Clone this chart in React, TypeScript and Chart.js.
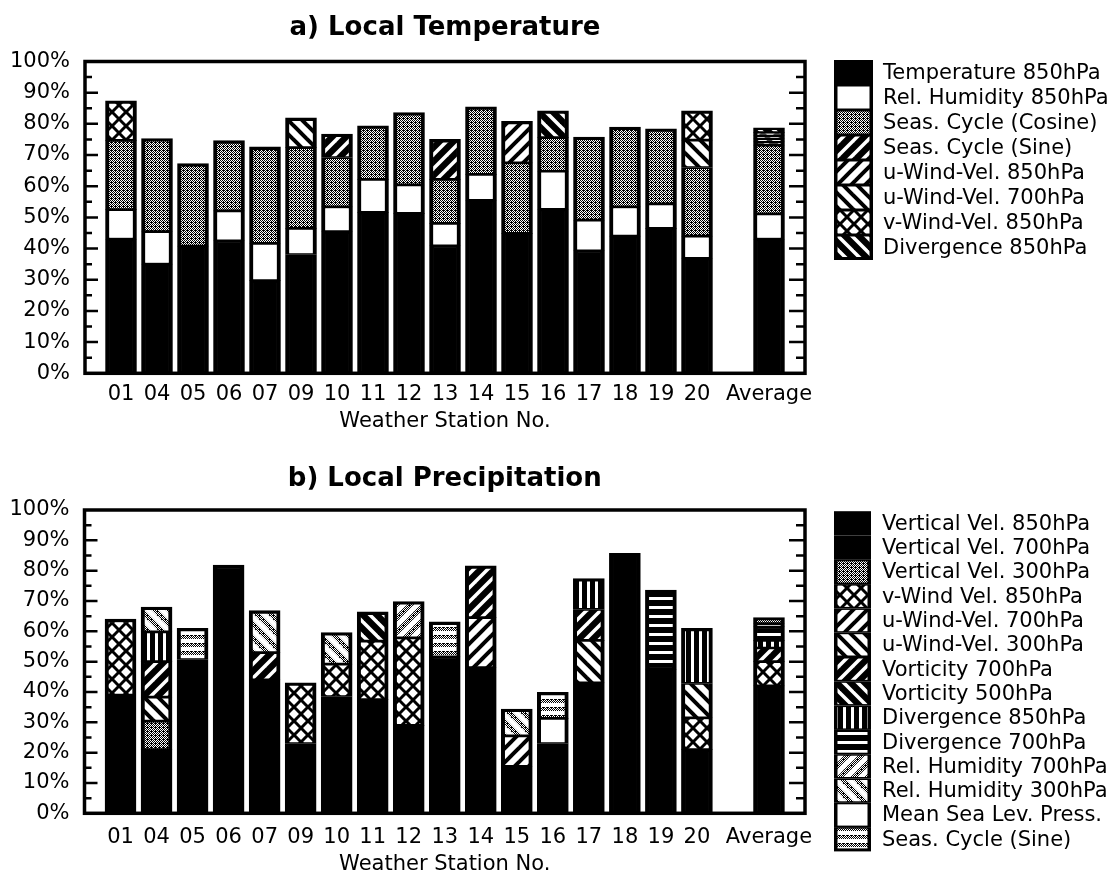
import React, { useEffect, useRef } from 'react';
import { Chart, registerables } from 'chart.js';

Chart.register(...registerables);

const FONT = "'DejaVu Sans', 'Liberation Sans', sans-serif";

// ---------- shared categories ----------
const STATIONS = ['01', '04', '05', '06', '07', '09', '10', '11', '12', '13', '14', '15', '16', '17', '18', '19', '20', 'Average'];
const Y_TICKS = [0, 10, 20, 30, 40, 50, 60, 70, 80, 90, 100];

// ---------- a) Local Temperature (percent, per station; last = Average) ----------
const tTemp850 = [43, 35, 40.8, 42.5, 29.7, 38.1, 45.4, 51.6, 51.3, 40.9, 55.5, 44.9, 52.6, 39.3, 44, 46.5, 36.9, 43];
const tRelHum850 = [9.5, 10.4, 0, 9.6, 12, 8.4, 8, 10.6, 9.1, 7.2, 8.3, 0, 12.2, 9.8, 9.4, 7.8, 7.1, 8.1];
const tSeasCos = [22.2, 29.9, 26.5, 22.5, 30.9, 25.9, 15.8, 17.2, 23.2, 14.1, 21.7, 22.6, 10.8, 26.7, 25.6, 24.1, 22, 22.1];
const tSeasSin = [0, 0, 0, 0, 0, 0, 7.5, 0, 0, 12.8, 0, 0, 0, 0, 0, 0, 0, 1.0];
const tUWind850 = [0, 0, 0, 0, 0, 0, 0, 0, 0, 0, 0, 13.3, 0, 0, 0, 0, 0, 1.0];
const tUWind700 = [0, 0, 0, 0, 0, 9.5, 0, 0, 0, 0, 0, 0, 0, 0, 0, 0, 8.8, 1.0];
const tVWind850 = [12.7, 0, 0, 0, 0, 0, 0, 0, 0, 0, 0, 0, 0, 0, 0, 0, 9.4, 1.0];
const tDiv850 = [0, 0, 0, 0, 0, 0, 0, 0, 0, 0, 0, 0, 8.6, 0, 0, 0, 0, 1.5];

// ---------- b) Local Precipitation ----------
const pVertVel850 = [39, 21, 50.7, 81.8, 44, 23, 38.5, 37.5, 29, 51.6, 48, 15.5, 23, 43, 85.7, 47.5, 21, 42];
const pVertVel700 = [0, 0, 0, 0, 0, 0, 0, 0, 0, 0, 0, 0, 0, 0, 0, 0, 0, 0];
const pVertVel300 = [0, 9.4, 0, 0, 0, 0, 0, 0, 0, 0, 0, 0, 0, 0, 0, 0, 0, 0];
const pVWind850 = [25, 0, 0, 0, 0, 20, 10.7, 19.3, 28.8, 0, 0, 0, 0, 0, 0, 0, 10.5, 8];
const pUWind700 = [0, 0, 0, 0, 0, 0, 0, 0, 0, 0, 16.5, 10, 0, 0, 0, 0, 0, 0];
const pUWind300 = [0, 7.9, 0, 0, 0, 0, 0, 0, 0, 0, 0, 0, 0, 14, 0, 0, 11.3, 0];
const pVort700 = [0, 11.7, 0, 0, 9, 0, 0, 0, 0, 0, 17.1, 0, 0, 10.2, 0, 0, 0, 4.5];
const pVort500 = [0, 0, 0, 0, 0, 0, 0, 9.6, 0, 0, 0, 0, 0, 0, 0, 0, 0, 0];
const pDiv850 = [0, 9.8, 0, 0, 0, 0, 0, 0, 0, 0, 0, 0, 0, 10.2, 0, 0, 18.2, 2.5];
const pDiv700 = [0, 0, 0, 0, 0, 0, 0, 0, 0, 0, 0, 0, 0, 0, 0, 26.1, 0, 4.5];
const pRelHum700 = [0, 0, 0, 0, 0, 0, 0, 0, 12, 0, 0, 0, 0, 0, 0, 0, 0, 0];
const pRelHum300 = [0, 8.2, 0, 0, 13.8, 0, 10.4, 0, 0, 0, 0, 8.9, 0, 0, 0, 0, 0, 0];
const pMslp = [0, 0, 0, 0, 0, 0, 0, 0, 0, 0, 0, 0, 8.3, 0, 0, 0, 0, 1];
const pSeasSin = [0, 0, 10.3, 0, 0, 0, 0, 0, 0, 11.5, 0, 0, 8.6, 0, 0, 0, 0, 2];

// category axis: empty slot before, between "20" and "Average", and after
const LABELS = ['', ...STATIONS.slice(0, 17), '', STATIONS[17], ''];
const pad = (arr: number[]) => [null, ...arr.slice(0, 17), null, arr[17], null];

// ---------- pattern helpers ----------
function tile(w: number, h: number, draw: (c: CanvasRenderingContext2D) => void) {
  const cv = document.createElement('canvas');
  cv.width = w;
  cv.height = h;
  const c = cv.getContext('2d') as CanvasRenderingContext2D;
  draw(c);
  return cv;
}
function stippleCanvas() {
  return tile(4, 4, (c) => {
    c.fillStyle = '#fff';
    c.fillRect(0, 0, 4, 4);
    c.fillStyle = '#000';
    const pts = [[0, 0], [2, 0], [1, 1], [3, 1], [0, 2], [2, 2], [3, 2], [1, 3], [3, 3]];
    for (const [x, y] of pts) c.fillRect(x, y, 1, 1);
  });
}
function diag(N: number, lw: number, dirs: string[], fg: any, bg: string) {
  return tile(N, N, (c) => {
    c.fillStyle = bg;
    c.fillRect(0, 0, N, N);
    c.strokeStyle = fg;
    c.lineWidth = lw;
    for (const d of dirs) {
      for (const k of [-N, 0, N]) {
        c.beginPath();
        if (d === '/') {
          c.moveTo(k - N, 2 * N);
          c.lineTo(k + 2 * N, -N);
        } else {
          c.moveTo(k - N, -N);
          c.lineTo(k + 2 * N, 2 * N);
        }
        c.stroke();
      }
    }
  });
}

function makeFill(kind: string): any {
  const helper = document.createElement('canvas').getContext('2d') as CanvasRenderingContext2D;
  const stip = stippleCanvas();
  const stipPat = helper.createPattern(stip, 'repeat');
  const pat = (cv: HTMLCanvasElement) => helper.createPattern(cv, 'repeat');
  switch (kind) {
    case 'black':
      return '#000';
    case 'white':
      return '#fff';
    case 'stipple':
      return stipPat;
    case 'thickFwd':
      return pat(diag(14, 3.5, ['/'], '#fff', '#000'));
    case 'thickBack':
      return pat(diag(14, 3.5, ['\\'], '#fff', '#000'));
    case 'thinFwd':
      return pat(diag(14, 4, ['/'], '#000', '#fff'));
    case 'thinBack':
      return pat(diag(14, 4, ['\\'], '#000', '#fff'));
    case 'cross':
      return pat(diag(14, 3, ['/', '\\'], '#000', '#fff'));
    case 'vlines':
      return pat(tile(8, 2, (c) => {
        c.fillStyle = '#000';
        c.fillRect(0, 0, 8, 2);
        c.fillStyle = '#fff';
        c.fillRect(3, 0, 3, 2);
      }));
    case 'hlines':
      return pat(tile(2, 9, (c) => {
        c.fillStyle = '#000';
        c.fillRect(0, 0, 2, 9);
        c.fillStyle = '#fff';
        c.fillRect(0, 3, 2, 3);
      }));
    case 'grayFwd':
      return pat(diag(14, 5, ['/'], stipPat, '#fff'));
    case 'grayBack':
      return pat(diag(14, 5, ['\\'], stipPat, '#fff'));
    case 'grayBands':
      return pat(tile(4, 8, (c) => {
        c.fillStyle = '#fff';
        c.fillRect(0, 0, 4, 8);
        c.fillStyle = c.createPattern(stip, 'repeat') as CanvasPattern;
        c.fillRect(0, 2, 4, 4);
      }));
    default:
      return '#888';
  }
}

// ---------- series definitions ----------
const TEMP_SERIES = [
  { label: 'Temperature 850hPa', values: tTemp850, fill: 'black' },
  { label: 'Rel. Humidity 850hPa', values: tRelHum850, fill: 'white' },
  { label: 'Seas. Cycle (Cosine)', values: tSeasCos, fill: 'stipple' },
  { label: 'Seas. Cycle (Sine)', values: tSeasSin, fill: 'thickFwd' },
  { label: 'u-Wind-Vel. 850hPa', values: tUWind850, fill: 'thinFwd' },
  { label: 'u-Wind-Vel. 700hPa', values: tUWind700, fill: 'thinBack' },
  { label: 'v-Wind-Vel. 850hPa', values: tVWind850, fill: 'cross' },
  { label: 'Divergence 850hPa', values: tDiv850, fill: 'thickBack' },
];

const PREC_SERIES = [
  { label: 'Vertical Vel. 850hPa', values: pVertVel850, fill: 'black' },
  { label: 'Vertical Vel. 700hPa', values: pVertVel700, fill: 'black' },
  { label: 'Vertical Vel. 300hPa', values: pVertVel300, fill: 'stipple' },
  { label: 'v-Wind Vel. 850hPa', values: pVWind850, fill: 'cross' },
  { label: 'u-Wind-Vel. 700hPa', values: pUWind700, fill: 'thinFwd' },
  { label: 'u-Wind-Vel. 300hPa', values: pUWind300, fill: 'thinBack' },
  { label: 'Vorticity 700hPa', values: pVort700, fill: 'thickFwd' },
  { label: 'Vorticity 500hPa', values: pVort500, fill: 'thickBack' },
  { label: 'Divergence 850hPa', values: pDiv850, fill: 'vlines' },
  { label: 'Divergence 700hPa', values: pDiv700, fill: 'hlines' },
  { label: 'Rel. Humidity 700hPa', values: pRelHum700, fill: 'grayFwd' },
  { label: 'Rel. Humidity 300hPa', values: pRelHum300, fill: 'grayBack' },
  { label: 'Mean Sea Lev. Press.', values: pMslp, fill: 'white' },
  { label: 'Seas. Cycle (Sine)', values: pSeasSin, fill: 'grayBands' },
];

// ---------- plugins ----------
const framePlugin = {
  id: 'frame',
  afterDatasetsDraw(chart: any) {
    const { ctx, chartArea: a } = chart;
    const y = chart.scales.y;
    ctx.save();
    ctx.strokeStyle = '#000';
    ctx.lineWidth = 3.5;
    ctx.strokeRect(a.left, a.top, a.right - a.left, a.bottom - a.top);
    ctx.lineWidth = 2.5;
    for (let v = 5; v < 100; v += 5) {
      const py = y.getPixelForValue(v);
      const major = v % 10 === 0;
      ctx.beginPath();
      ctx.moveTo(a.left, py);
      ctx.lineTo(a.left + (major ? 13 : 7), py);
      ctx.moveTo(a.right, py);
      ctx.lineTo(a.right - (major ? 16 : 9), py);
      ctx.stroke();
    }
    ctx.restore();
  },
};

const legendPlugin = {
  id: 'patternLegend',
  afterDraw(chart: any, _args: any, opts: any) {
    const { ctx } = chart;
    const { x, top, rowH, w, textX } = opts;
    ctx.save();
    chart.data.datasets.forEach((ds: any, i: number) => {
      const ry = top + i * rowH;
      ctx.fillStyle = '#000';
      ctx.fillRect(x, ry, w, rowH);
      const t = i === 0 ? 3 : 1.5;
      const b = i === chart.data.datasets.length - 1 ? 3 : 1.5;
      ctx.fillStyle = ds.legendFill;
      ctx.fillRect(x + 3.5, ry + t, w - 7, rowH - t - b);
      ctx.fillStyle = '#000';
      ctx.font = `21px ${FONT}`;
      ctx.textAlign = 'left';
      ctx.textBaseline = 'middle';
      ctx.fillText(ds.label, textX, ry + rowH / 2 + 1);
    });
    ctx.restore();
  },
};

function buildConfig(p: any) {
  const datasets = p.series.map((s: any) => {
    const f = makeFill(s.fill);
    return {
      label: s.label,
      data: pad(s.values),
      backgroundColor: f,
      legendFill: f,
      borderColor: '#000',
      borderSkipped: false,
      borderWidth: (ctx: any) => {
        const i = ctx.dataIndex;
        const d = ctx.datasetIndex;
        if (i === undefined || d === undefined) return 2;
        const all = ctx.chart.data.datasets;
        let isTop = true;
        for (let k = d + 1; k < all.length; k++) {
          if ((all[k].data[i] || 0) > 0) {
            isTop = false;
            break;
          }
        }
        return { left: 4, right: 4, top: isTop ? 3.3 : 1.7, bottom: 1.7 };
      },
      barThickness: 31,
    };
  });
  return {
    type: 'bar',
    data: { labels: LABELS, datasets },
    plugins: [framePlugin, legendPlugin],
    options: {
      animation: false,
      responsive: false,
      maintainAspectRatio: false,
      devicePixelRatio: 1,
      layout: { padding: { left: 0, right: 1119 - p.right, top: 0, bottom: 0 } },
      plugins: {
        legend: { display: false },
        tooltip: { enabled: false },
        title: {
          display: true,
          text: p.title,
          color: '#000',
          fullSize: false,
          font: { family: FONT, size: 26, weight: 'bold' },
          padding: { top: p.titleTop, bottom: p.top - p.titleTop - 31.2 },
        },
        patternLegend: p.legend,
      },
      scales: {
        x: {
          type: 'category',
          stacked: true,
          offset: false,
          grid: { display: false, drawTicks: false },
          border: { display: false },
          ticks: {
            autoSkip: false,
            maxRotation: 0,
            minRotation: 0,
            padding: p.xPad,
            color: '#000',
            font: { family: FONT, size: 21 },
          },
          title: {
            display: true,
            text: 'Weather Station No.',
            color: '#000',
            font: { family: FONT, size: 21 },
            padding: { top: 0, bottom: p.xTitleBottom },
          },
          afterFit: (s: any) => {
            s.height = 441 - p.bottom;
          },
        },
        y: {
          stacked: true,
          min: 0,
          max: 100,
          grid: { display: false, drawTicks: false },
          border: { display: false },
          afterBuildTicks: (s: any) => {
            s.ticks = Y_TICKS.map((v) => ({ value: v }));
          },
          ticks: {
            padding: 15,
            color: '#000',
            font: { family: FONT, size: 21 },
            callback: (v: any) => `${v}%`,
          },
          afterFit: (s: any) => {
            s.width = p.left;
          },
        },
      },
    },
  };
}

const TOP_CFG = {
  title: 'a) Local Temperature',
  series: TEMP_SERIES,
  left: 85,
  right: 805,
  top: 61.5,
  bottom: 373.3,
  titleTop: 13,
  xPad: 9,
  xTitleBottom: 7,
  legend: { x: 834, top: 60, rowH: 25, w: 39, textX: 883 },
};

const BOTTOM_CFG = {
  title: 'b) Local Precipitation',
  series: PREC_SERIES,
  left: 84.5,
  right: 805,
  top: 69,
  bottom: 372.3,
  titleTop: 22.6,
  xPad: 12,
  xTitleBottom: 5,
  legend: { x: 834, top: 70.2, rowH: 24.3, w: 37, textX: 882 },
};

function StackedChart({ cfg }: { cfg: any }) {
  const ref = useRef<HTMLCanvasElement | null>(null);
  useEffect(() => {
    if (!ref.current) return;
    const chart = new Chart(ref.current, buildConfig(cfg) as any);
    return () => chart.destroy();
  }, [cfg]);
  return <canvas ref={ref} width={1119} height={441} style={{ display: 'block', width: 1119, height: 441 }} />;
}

export default function App() {
  return (
    <div style={{ position: 'absolute', left: 0, top: 0, width: 1119, height: 882, background: '#fff' }}>
      <StackedChart cfg={TOP_CFG} />
      <StackedChart cfg={BOTTOM_CFG} />
    </div>
  );
}
